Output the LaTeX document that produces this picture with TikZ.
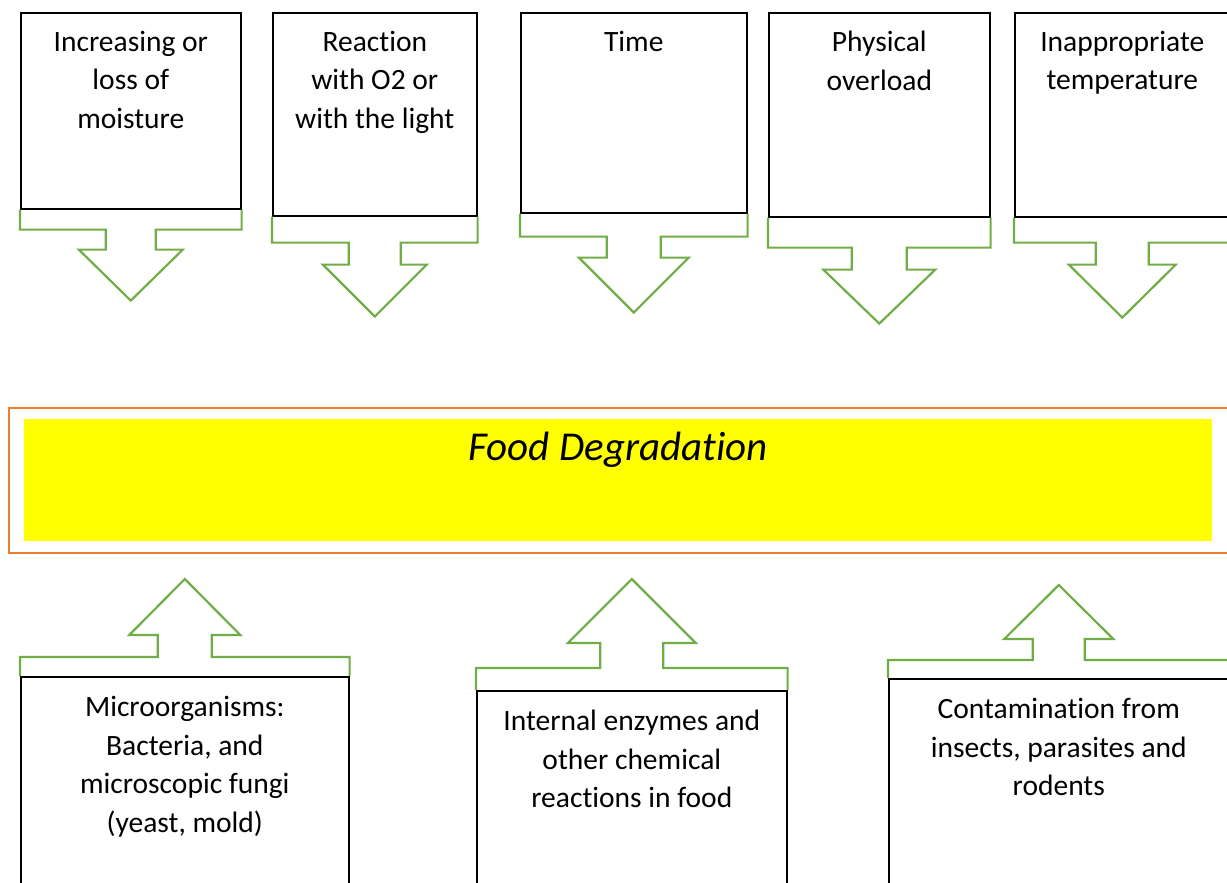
\documentclass[tikz,border=0pt]{standalone}
\usepackage{fontspec}
\setmainfont{Carlito}[Ligatures={NoCommon,NoRequired,NoContextual},Contextuals=NoAlternate]
\usepackage{tikz}
\usetikzlibrary{positioning}

\definecolor{causegreen}{HTML}{70AD47}
\definecolor{bandorange}{HTML}{ED7D31}
\definecolor{bandyellow}{HTML}{FFFF00}
\newcommand{\causefont}{\fontsize{29.5}{38.5}\selectfont}
\newcommand{\titlefont}{\fontsize{41}{49}\selectfont\itshape}

\begin{document}
\begin{tikzpicture}[x=1pt,y=-1pt,
  box/.style={draw=black,line width=1.6pt,fill=white,anchor=north west,inner sep=0pt},
  cause/.style={font=\causefont,align=center,anchor=north,inner sep=0pt},
  callout/.style={draw=causegreen,line width=2.2pt,line join=miter}]
  \useasboundingbox (0,0) rectangle (1227,883);
  % top row: factors
  \node[box,minimum width=220pt,minimum height=196pt] (moist) at (20,12) {};
  \node[box,minimum width=204pt,minimum height=203pt] (oxy) at (272,12) {};
  \node[box,minimum width=226pt,minimum height=200pt] (time) at (520,12) {};
  \node[box,minimum width=221pt,minimum height=204pt] (load) at (768,12) {};
  \node[box,minimum width=215pt,minimum height=204pt] (temp) at (1014,12) {};
  \node[cause,below=19pt of moist.north] (moisttxt) {Increasing or\\loss of\\moisture};
  \node[cause,below=19pt of oxy.north] (oxytxt) {Reaction\\with O2 or\\with the light};
  \node[cause,below=19pt of time.north] (timetxt) {Time};
  \node[cause,below=19pt of load.north] (loadtxt) {Physical\\overload};
  \node[cause,below=19pt of temp.north] (temptxt) {Inappropriate\\temperature};
  \foreach \b/\d/\s/\l/\a/\t in {moist/20/25/20/52/51, oxy/26/26/22/52/52,
      time/23/27/21/55/55, load/30/27.5/22/56/54, temp/25/26.5/22/53.5/53} {
    \draw[callout] (\b.south west) -- ([shift={(0,\d)}]\b.south west)
      -- ([shift={(-\s,\d)}]\b.south) -- ([shift={(-\s,\d+\l)}]\b.south)
      -- ([shift={(-\a,\d+\l)}]\b.south) -- ([shift={(0,\d+\l+\t)}]\b.south)
      -- ([shift={(\a,\d+\l)}]\b.south) -- ([shift={(\s,\d+\l)}]\b.south)
      -- ([shift={(\s,\d)}]\b.south) -- ([shift={(0,\d)}]\b.south east)
      -- (\b.south east);
  }
  % middle band
  \node[draw=bandorange,line width=2.2pt,anchor=north west,inner sep=0pt,
    minimum width=1240pt,minimum height=145pt] (band) at (8,407) {};
  \node[fill=bandyellow,anchor=north west,inner sep=0pt,
    minimum width=1188pt,minimum height=122pt] (food) at (24,419) {};
  \node[font=\titlefont,anchor=north,inner sep=0pt,below=13pt of food.north] (foodtxt) {Food Degradation};
  % bottom row: sources
  \node[box,minimum width=328pt,minimum height=260pt] (micro) at (20,676) {};
  \node[box,minimum width=310pt,minimum height=260pt] (enzyme) at (476,690) {};
  \node[box,minimum width=340pt,minimum height=260pt] (pest) at (888,678) {};
  \node[cause,below=20pt of micro.north] (microtxt) {Microorganisms:\\Bacteria, and\\microscopic fungi\\(yeast, mold)};
  \node[cause,below=20pt of enzyme.north] (enzymetxt) {Internal enzymes and\\other chemical\\reactions in food};
  \node[cause,below=20pt of pest.north] (pesttxt) {Contamination from\\insects, parasites and\\rodents};
  \foreach \b/\d/\s/\l/\a/\t in {micro/19/27/22/55.5/56, enzyme/22/31.5/25/64/64,
      pest/18/26/21/54.5/54} {
    \draw[callout] (\b.north west) -- ([shift={(0,-\d)}]\b.north west)
      -- ([shift={(-\s,-\d)}]\b.north) -- ([shift={(-\s,-\d-\l)}]\b.north)
      -- ([shift={(-\a,-\d-\l)}]\b.north) -- ([shift={(0,-\d-\l-\t)}]\b.north)
      -- ([shift={(\a,-\d-\l)}]\b.north) -- ([shift={(\s,-\d-\l)}]\b.north)
      -- ([shift={(\s,-\d)}]\b.north) -- ([shift={(0,-\d)}]\b.north east)
      -- (\b.north east);
  }
\end{tikzpicture}
\end{document}
